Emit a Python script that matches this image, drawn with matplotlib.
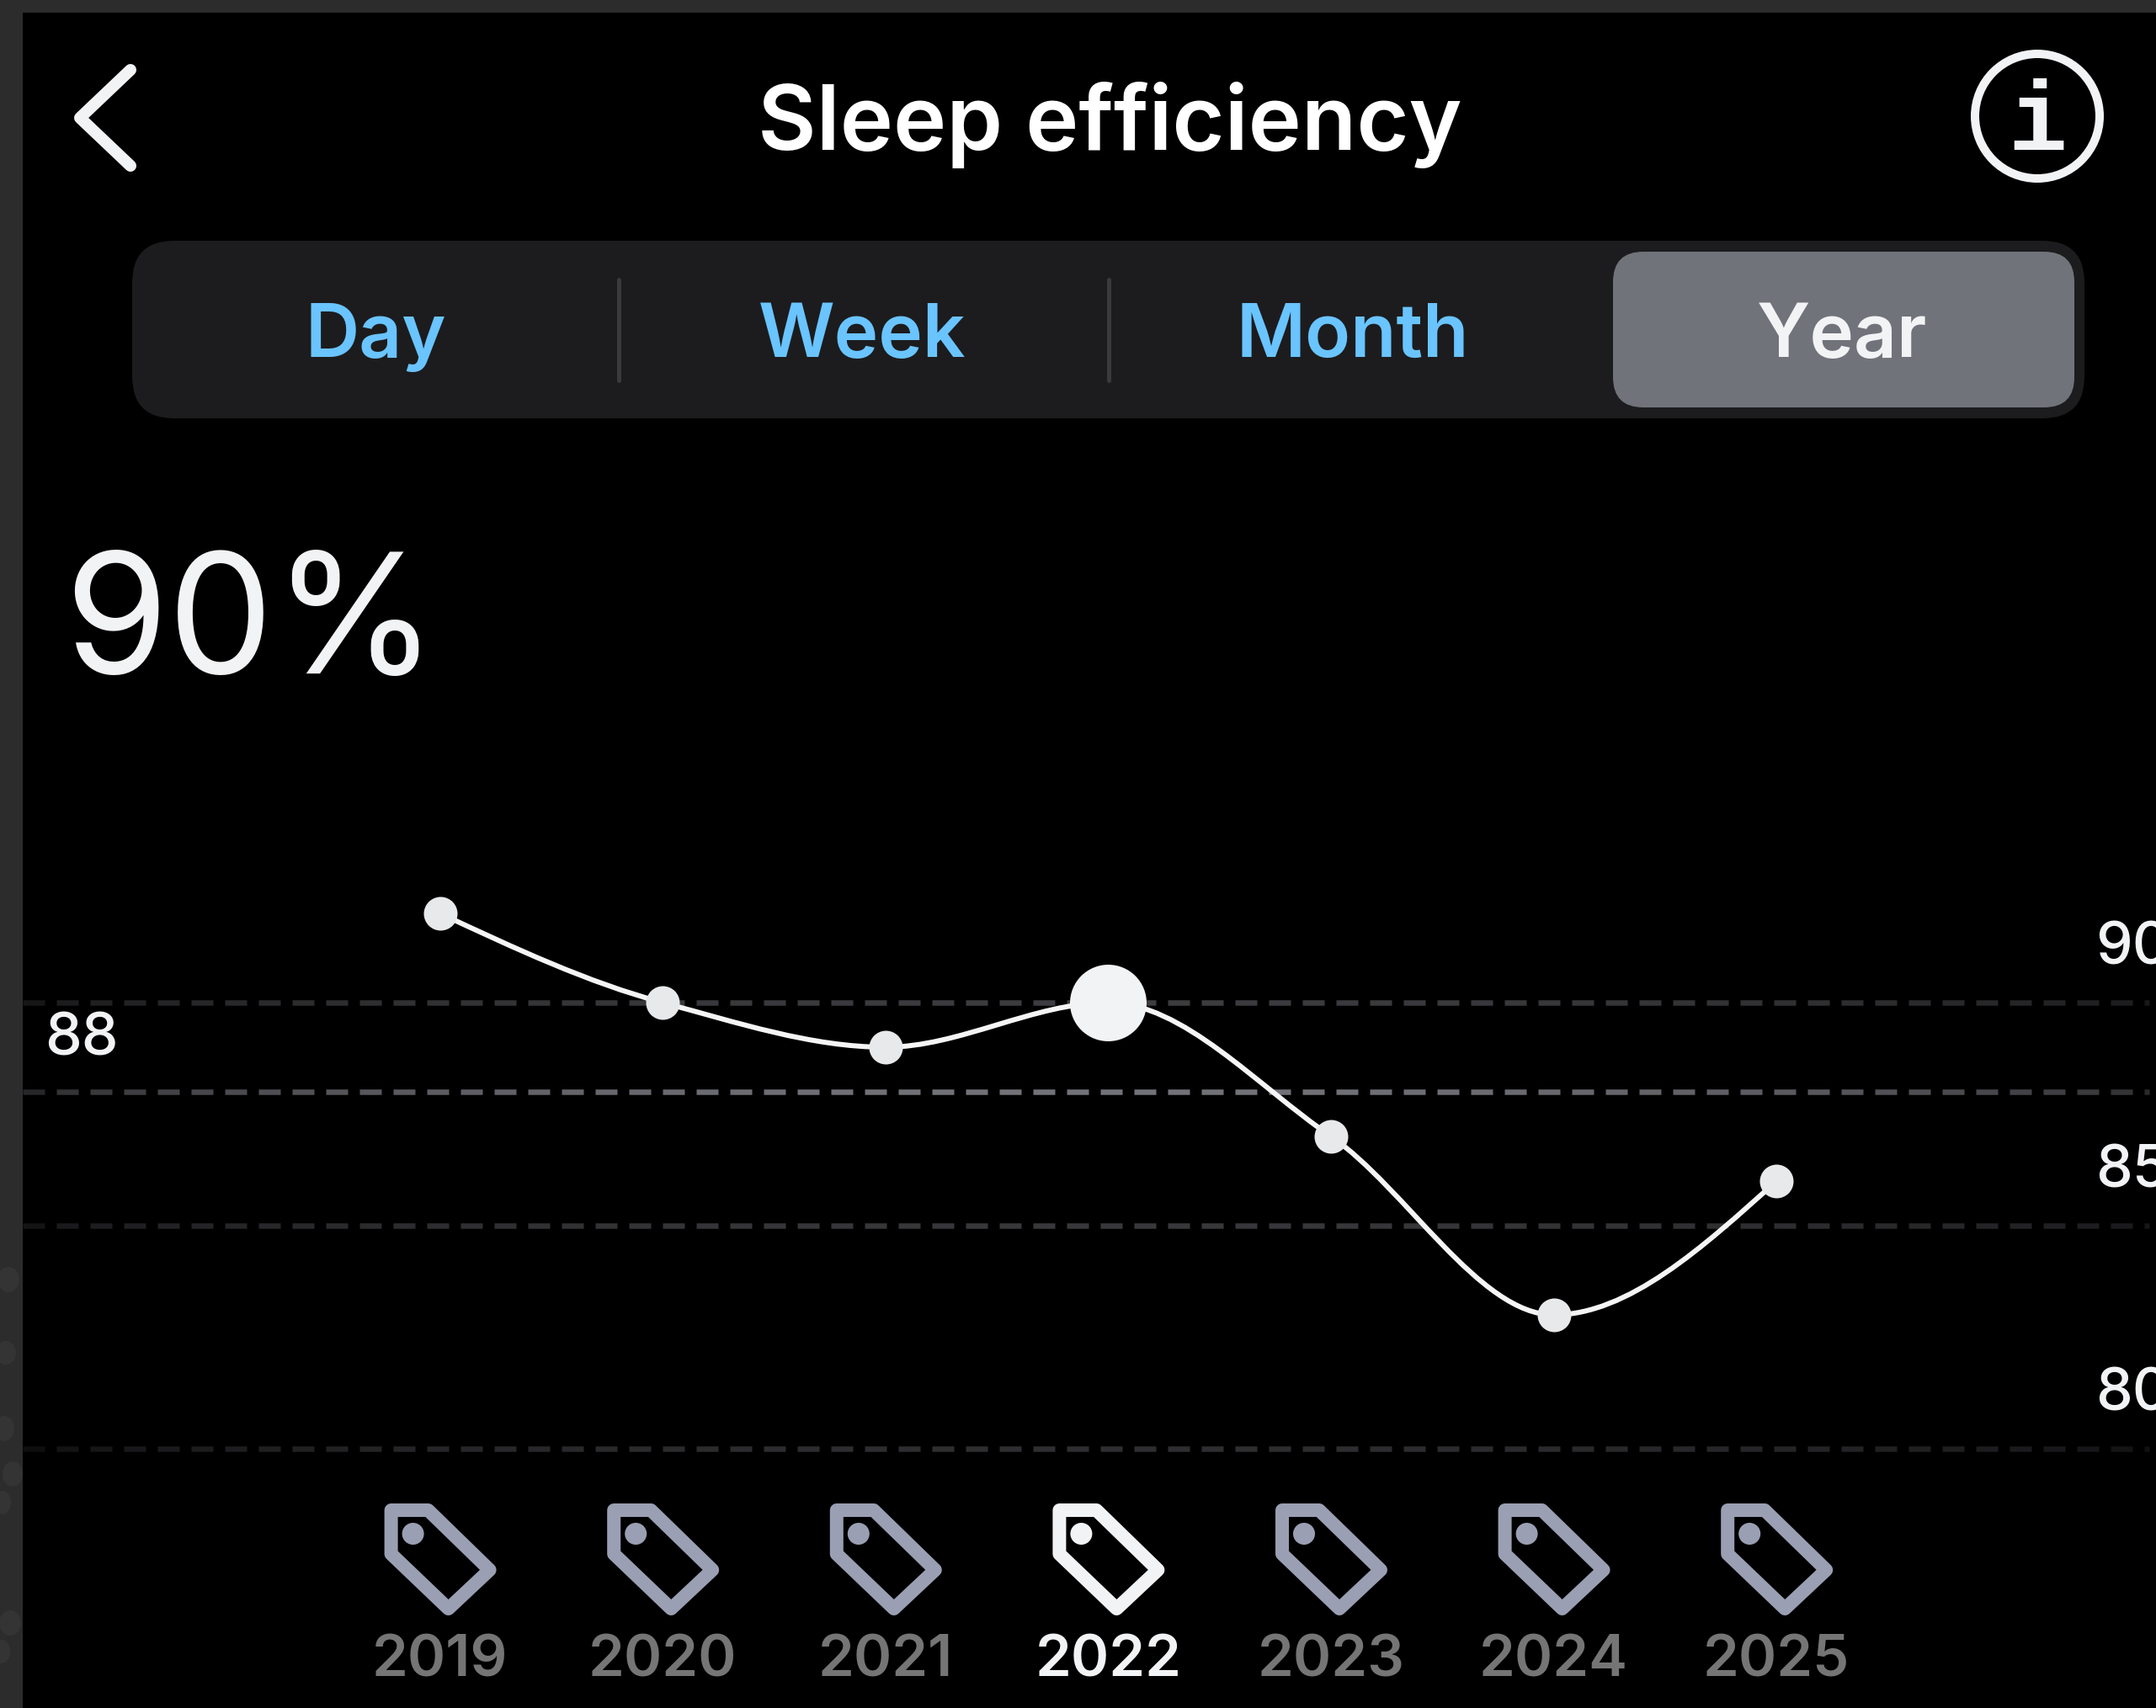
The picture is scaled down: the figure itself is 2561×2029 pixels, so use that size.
#!/usr/bin/env python3
"""Sleep efficiency screen: yearly values with a smooth line on a black phone UI."""

import matplotlib
matplotlib.use('Agg')
import matplotlib.pyplot as plt
import numpy as np
from matplotlib.collections import LineCollection
from matplotlib.patches import Circle, Ellipse, FancyBboxPatch, PathPatch, Polygon, Rectangle
from matplotlib.path import Path
from matplotlib.transforms import blended_transform_factory

years = [2019, 2020, 2021, 2022, 2023, 2024, 2025]
efficiency = [92, 90, 89, 90, 87, 83, 86]
selected_year = 2022
average_value = 88
tick_values = [90, 85, 80]
tabs = ['Day', 'Week', 'Month', 'Year']
title_text = 'Sleep efficiency'
headline_text = '90%'

W, H = 2561, 2029
PT = 0.72  # points per pixel at dpi 100

WHITE = '#f2f3f5'
BLUE = '#6ac4ff'
FONT = 'Inter'


def monotone_path(xs, ys):
    """Cubic path through the points, with flat tangents at turning points."""
    xs = np.asarray(xs, float)
    ys = np.asarray(ys, float)
    slopes = np.diff(ys) / np.diff(xs)
    tang = np.zeros(len(xs))
    for i in range(1, len(xs) - 1):
        if slopes[i - 1] * slopes[i] > 0:
            tang[i] = 2 * slopes[i - 1] * slopes[i] / (slopes[i - 1] + slopes[i])
    tang[0] = (3 * slopes[0] - tang[1]) / 2
    tang[-1] = (3 * slopes[-1] - tang[-2]) / 2
    verts = [(xs[0], ys[0])]
    codes = [Path.MOVETO]
    for i in range(len(xs) - 1):
        h = (xs[i + 1] - xs[i]) / 3
        verts += [(xs[i] + h, ys[i] + tang[i] * h),
                  (xs[i + 1] - h, ys[i + 1] - tang[i + 1] * h),
                  (xs[i + 1], ys[i + 1])]
        codes += [Path.CURVE4] * 3
    return Path(verts, codes)


def faded_dashes(ax_ui, ax_chart, value, peak, low):
    """Dashed horizontal rule that fades toward both screen edges."""
    trans = blended_transform_factory(ax_ui.transData, ax_chart.transData)
    starts = np.arange(27, 2553, 40)
    segs = [[(x, value), (min(x + 26, 2553), value)] for x in starts]
    fade = np.sin(np.pi * (starts - 27) / (2553 - 27)) ** 0.6
    grey = (low + (peak - low) * fade) / 255
    cols = [(g, g, min(g * 1.06, 1)) for g in grey]
    ax_chart.add_collection(LineCollection(segs, colors=cols, linewidths=6.5 * PT,
                                           transform=trans, capstyle='butt', zorder=1))


def draw_tag(ax, cx, color):
    outline = [(cx - 58, 1794), (cx - 14, 1794), (cx + 59, 1865),
               (cx + 10, 1911), (cx - 58, 1846)]
    ax.add_patch(Polygon(outline, closed=True, fill=False, edgecolor=color,
                         linewidth=16 * PT, joinstyle='round'))
    ax.add_patch(Circle((cx - 32, 1822), 13, facecolor=color, edgecolor='none'))


fig = plt.figure(figsize=(W / 100, H / 100), dpi=100, facecolor='#2c2c2c')

# pixel-space layer for the app chrome
ui = fig.add_axes([0, 0, 1, 1])
ui.set_xlim(0, W)
ui.set_ylim(H, 0)
ui.axis('off')

ui.add_patch(Rectangle((27, 15), W - 27, H - 15, facecolor='black', edgecolor='none'))
for bx, by, bw, bh in [(10, 1520, 26, 30), (7, 1607, 24, 28), (5, 1697, 24, 30),
                       (15, 1751, 24, 30), (3, 1785, 20, 28), (12, 1928, 26, 30),
                       (2, 1962, 20, 28)]:
    ui.add_patch(Ellipse((bx, by), bw, bh, facecolor='#343434', edgecolor='none'))

# header
ui.plot([155, 95, 155], [83, 140, 197], color=WHITE, lw=14 * PT,
        solid_capstyle='round', solid_joinstyle='round')
ui.text(1318, 178, title_text, color='white', fontsize=77, family=FONT, fontweight='semibold',
        ha='center', va='baseline')
ui.add_patch(Circle((2420, 138), 74, fill=False, edgecolor=WHITE, linewidth=10 * PT))
ui.text(2420, 178, 'i', color=WHITE, fontsize=84, family='Liberation Mono', fontweight='bold',
        ha='center', va='baseline')

# tab bar
ui.add_patch(FancyBboxPatch((157, 286), 2319, 211, boxstyle='round,pad=0,rounding_size=50',
                            facecolor='#1c1c1e', edgecolor='none'))
ui.add_patch(FancyBboxPatch((1916, 299), 548, 185, boxstyle='round,pad=0,rounding_size=36',
                            facecolor='#71737b', edgecolor='none'))
for dx in [735, 1317]:
    ui.plot([dx, dx], [332, 452], color='#3a3a3c', lw=5 * PT, solid_capstyle='round')
for name, tx in zip(tabs, [446, 1024, 1607, 2188]):
    ui.text(tx, 424, name, color=WHITE if name == 'Year' else BLUE, fontsize=64, family=FONT,
            fontweight='semibold', ha='center', va='baseline')

ui.text(76, 800, headline_text, color=WHITE, fontsize=143, family=FONT, fontweight='regular',
        ha='left', va='baseline')

# chart layer: the limits put the years and values on their screen positions
step = 264.6
x0 = 522.6
ax = fig.add_axes([0, 0, 1, 1], facecolor='none')
ax.set_xlim(years[0] - x0 / step, years[0] + (W - x0) / step)
ax.set_ylim(80 - (H - 1721) / 53, 80 + 1721 / 53)
ax.axis('off')

for v, peak, low in [(90, 60, 22), (85, 56, 20), (80, 46, 14)]:
    faded_dashes(ui, ax, v, peak, low)
faded_dashes(ui, ax, average_value, 114, 38)

ax.add_patch(PathPatch(monotone_path(years, efficiency), fill=False, edgecolor='#f5f5f5',
                       linewidth=6 * PT, capstyle='round', zorder=3))
for yr, val in zip(years, efficiency):
    big = yr == selected_year
    ax.plot([yr], [val], 'o', color=WHITE if big else '#e8e9eb', mec='none',
            ms=(91 if big else 40) * PT, zorder=4)

ybase = blended_transform_factory(ui.transData, ax.transData)
ui.text(53, 1253, str(average_value), color=WHITE, fontsize=50, family=FONT, fontweight='medium',
        ha='left', va='baseline')
for v in tick_values:
    ax.text(2489, v + 45 / 53, str(v), color=WHITE, fontsize=50, family=FONT, fontweight='medium',
            ha='left', va='baseline', transform=ybase, clip_on=True)

# year tags along the bottom
for yr in years:
    cx = x0 + (yr - years[0]) * step
    big = yr == selected_year
    draw_tag(ui, cx, WHITE if big else '#9a9fb3')
    ui.text(cx, 1992, str(yr), color=WHITE if big else '#757575', fontsize=49.5,
            family=FONT, fontweight='semibold', ha='center', va='baseline')

fig.savefig('out.png', dpi=100, facecolor=fig.get_facecolor())
